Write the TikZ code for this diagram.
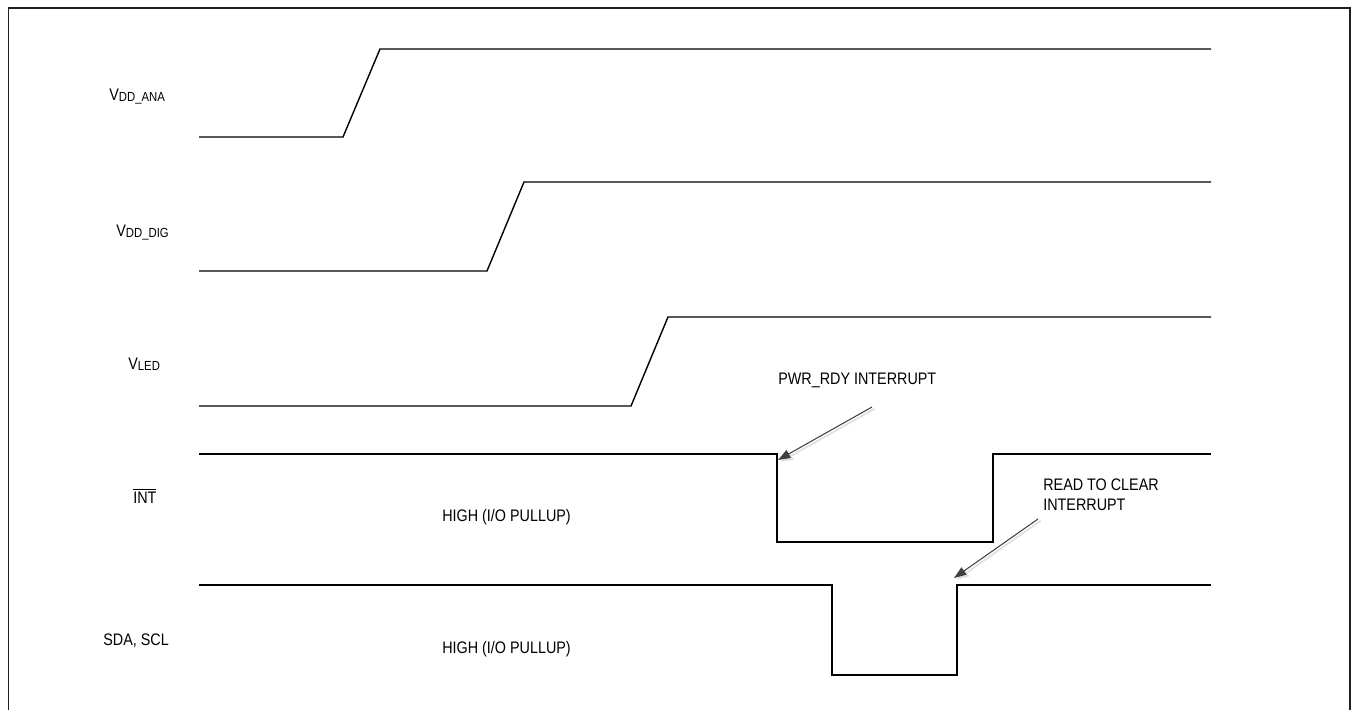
\documentclass[tikz,border=0pt]{standalone}
\usepackage{fontspec}
\setmainfont[FakeStretch=0.86]{Liberation Sans}
\usetikzlibrary{arrows.meta}
\newcommand{\sigsub}[1]{\raisebox{-0.6pt}{\fontsize{7.5}{8}\selectfont #1}}

\begin{document}
\begin{tikzpicture}[x=0.02cm, y=-0.02cm,
	sig/.style={line width=0.8pt},
	lbl/.style={anchor=base west, inner sep=0pt, font=\fontsize{9.5}{11.9}\selectfont},
	callout/.style={draw=black!75, line width=0.6pt, -{Triangle[length=7pt,width=5pt]},
		preaction={draw=black!12, line width=1pt, transform canvas={shift={(1.5pt,-1pt)}}}}]
	\useasboundingbox (0,0) rectangle (1353,710);

	% frame
	\draw[line width=1.1pt, draw=black!88] (8.5,715) -- (8.5,8) -- (1350,8) -- (1350,715);

	% signal names
	\node[lbl] (ana) at (109,100) {V\sigsub{DD\_ANA}};
	\node[lbl] (dig) at (116,236) {V\sigsub{DD\_DIG}};
	\node[lbl] (led) at (128,369) {V\sigsub{LED}};
	\node[lbl] (int) at (133,503) {$\overline{\mbox{INT}}$};
	\node[lbl] (sda) at (103,645) {SDA, SCL};

	% VDD_ANA
	\draw[sig] (199,137) -- (343,137) -- (380,49) -- (1211,49);
	% VDD_DIG
	\draw[sig] (199,271) -- (487,271) -- (524,182) -- (1211,182);
	% VLED
	\draw[sig] (199,406) -- (631,406) -- (668,317) -- (1211,317);
	% INT
	\draw[sig] (199,454) -- (777,454) -- (777,542) -- (993,542) -- (993,454) -- (1211,454);
	% SDA, SCL
	\draw[sig] (199,585) -- (832,585) -- (832,675) -- (957,675) -- (957,585) -- (1211,585);

	% levels
	\node[lbl] (inthigh) at (442,521) {HIGH (I/O PULLUP)};
	\node[lbl] (sdahigh) at (442,653) {HIGH (I/O PULLUP)};

	% PWR_RDY interrupt
	\node[lbl] (pwrrdy) at (778,384) {PWR\_RDY INTERRUPT};
	\coordinate (pwrtail) at (872,407);
	\coordinate (pwrtip) at (778,460);
	\draw[callout] (pwrtail) -- (pwrtip);

	% read to clear
	\node[lbl, anchor=north west, align=left] (rdclear) at (1043,478) {READ TO CLEAR\\INTERRUPT};
	\coordinate (rdtail) at (1038,519);
	\coordinate (rdtip) at (954,578);
	\draw[callout] (rdtail) -- (rdtip);
\end{tikzpicture}
\end{document}
